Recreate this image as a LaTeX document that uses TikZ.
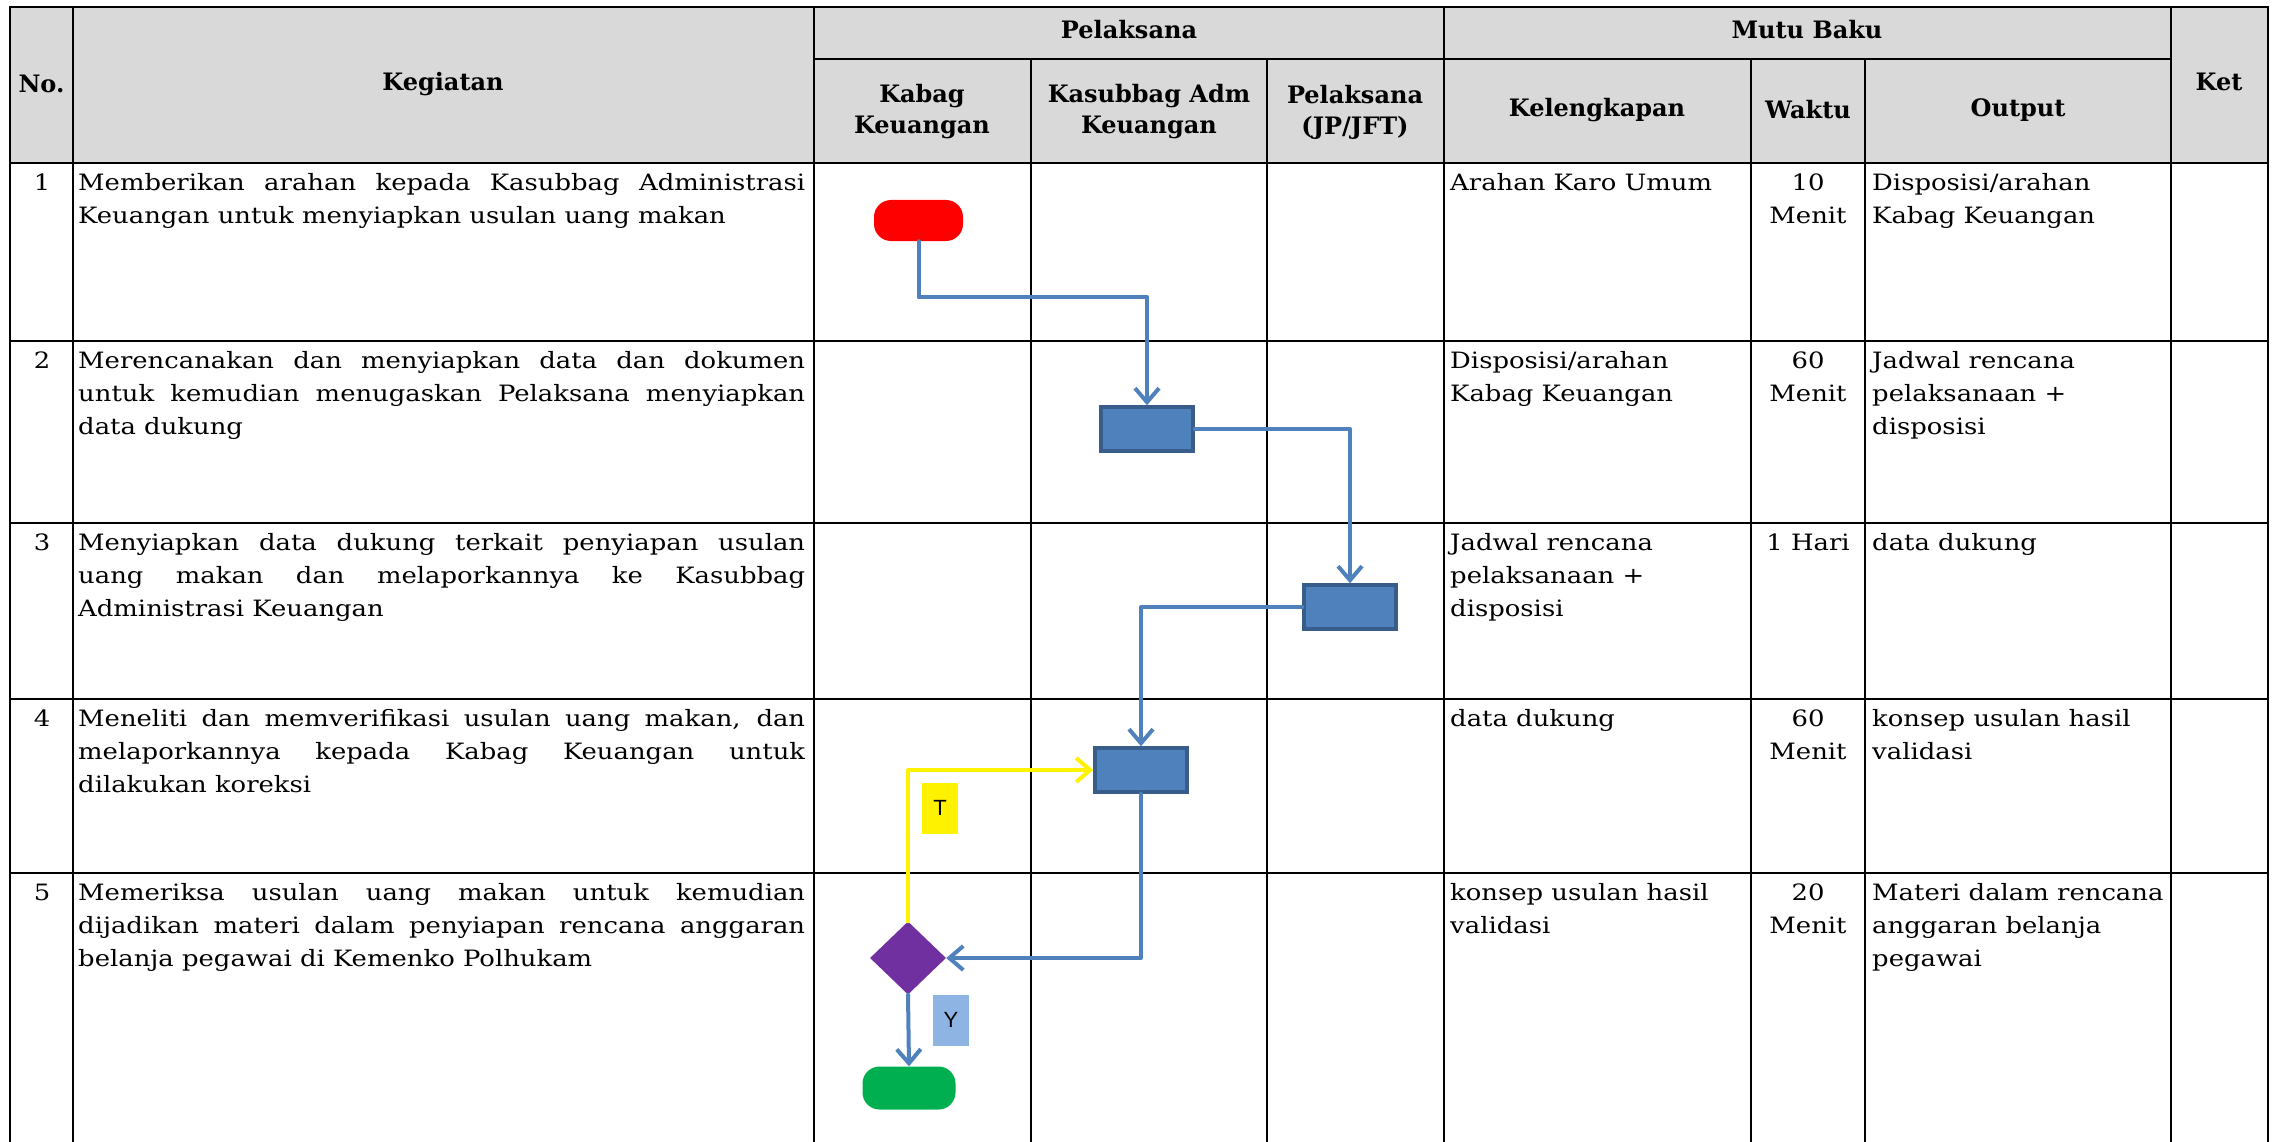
\documentclass[tikz,border=0pt]{standalone}
\usepackage{fontspec}
\setmainfont{DejaVu Serif}[FakeStretch=1.15]
\newfontfamily\hdrfont{DejaVu Serif}
\newfontfamily\arialfont{Liberation Sans}
\usetikzlibrary{arrows.meta,shapes.geometric}
\definecolor{hdrgray}{HTML}{D9D9D9}
\definecolor{flowblue}{HTML}{4F81BD}
\definecolor{boxedge}{HTML}{385D8A}
\definecolor{decpurple}{HTML}{7030A0}
\definecolor{endgreen}{HTML}{00B050}
\definecolor{ybox}{HTML}{8EB4E3}
\newcommand{\jline}[1]{\makebox[\linewidth][s]{#1}}
\tikzset{
  tline/.style={line width=2.5pt, black},
  hdr/.style={font=\hdrfont\bfseries\fontsize{24}{31}\selectfont, align=center, inner sep=0},
  body/.style={font=\fontsize{22.5}{33}\selectfont, inner sep=0, anchor=base west},
  num/.style={font=\fontsize{22.5}{33}\selectfont, inner sep=0, anchor=base},
  term/.style={rectangle, rounded corners=17pt, minimum width=89pt, minimum height=41pt, inner sep=0},
  proc/.style={rectangle, fill=flowblue, draw=boxedge, line width=3.5pt, minimum width=92pt, minimum height=44pt, inner sep=0},
  flow/.style={draw=flowblue, line width=4pt, line cap=round, line join=round, -{Straight Barb[length=14pt,width=24pt]}},
  lbl/.style={font=\arialfont\fontsize{22}{26}\selectfont, minimum width=36pt, minimum height=51pt, inner sep=0},
}
\begin{document}
\begin{tikzpicture}[x=1pt,y=-1pt]
\useasboundingbox (0,0) rectangle (2274,1142);
\fill[white] (0,0) rectangle (2274,1142);
% header background
\fill[hdrgray] (10,7) rectangle (2268,163);
% grid lines
\draw[tline] (10,1142) -- (10,7) -- (2268,7) -- (2268,1142);
\draw[tline] (814,59) -- (2171,59);
\foreach \yy in {163,341,523,699,873} \draw[tline] (10,\yy) -- (2268,\yy);
\foreach \xx in {73,814,1444,2171} \draw[tline] (\xx,7) -- (\xx,1142);
\foreach \xx in {1031,1267,1751,1865} \draw[tline] (\xx,59) -- (\xx,1142);

% header texts
\node[hdr] (hno) at (41.5,84) {No.};
\node[hdr] (hkeg) at (443,84) {Kegiatan};
\node[hdr] (hpel) at (1129,30) {Pelaksana};
\node[hdr] (hmutu) at (1807,30) {Mutu Baku};
\node[hdr] (hket) at (2219,82) {Ket};
\node[hdr] (hkabag) at (922,112) {Kabag\\Keuangan};
\node[hdr] (hkasub) at (1149,112) {Kasubbag Adm\\Keuangan};
\node[hdr] (hpjp) at (1355,112) {Pelaksana\\(JP/JFT)};
\node[hdr] (hkel) at (1597,110) {Kelengkapan};
\node[hdr] (hwak) at (1808,110) {Waktu};
\node[hdr] (hout) at (2018,110) {Output};

% row 1
\node[num] (no1) at (42,190) {1};
\node[body] (keg1) at (78,190) {\parbox[t]{727pt}{\jline{Memberikan arahan kepada Kasubbag Administrasi}\\Keuangan untuk menyiapkan usulan uang makan}};
\node[body] (kel1) at (1450,190) {\parbox[t]{300pt}{\raggedright Arahan Karo Umum}};
\node[num] (wak1) at (1808,190) {\parbox[t]{110pt}{\centering 10\\Menit}};
\node[body] (out1) at (1872,190) {\parbox[t]{295pt}{\raggedright Disposisi/arahan\\Kabag Keuangan}};

% row 2
\node[num] (no2) at (42,368) {2};
\node[body] (keg2) at (78,368) {\parbox[t]{727pt}{\jline{Merencanakan dan menyiapkan data dan dokumen}\\\jline{untuk kemudian menugaskan Pelaksana menyiapkan}\\data dukung}};
\node[body] (kel2) at (1450,368) {\parbox[t]{300pt}{\raggedright Disposisi/arahan\\Kabag Keuangan}};
\node[num] (wak2) at (1808,368) {\parbox[t]{110pt}{\centering 60\\Menit}};
\node[body] (out2) at (1872,368) {\parbox[t]{295pt}{\raggedright Jadwal rencana\\pelaksanaan +\\disposisi}};

% row 3
\node[num] (no3) at (42,550) {3};
\node[body] (keg3) at (78,550) {\parbox[t]{727pt}{\jline{Menyiapkan data dukung terkait penyiapan usulan}\\\jline{uang makan dan melaporkannya ke Kasubbag}\\Administrasi Keuangan}};
\node[body] (kel3) at (1450,550) {\parbox[t]{300pt}{\raggedright Jadwal rencana\\pelaksanaan +\\disposisi}};
\node[num] (wak3) at (1808,550) {\parbox[t]{110pt}{\centering 1 Hari}};
\node[body] (out3) at (1872,550) {\parbox[t]{295pt}{\raggedright data dukung}};

% row 4
\node[num] (no4) at (42,726) {4};
\node[body] (keg4) at (78,726) {\parbox[t]{727pt}{\jline{Meneliti dan memverifikasi usulan uang makan, dan}\\\jline{melaporkannya kepada Kabag Keuangan untuk}\\dilakukan koreksi}};
\node[body] (kel4) at (1450,726) {\parbox[t]{300pt}{\raggedright data dukung}};
\node[num] (wak4) at (1808,726) {\parbox[t]{110pt}{\centering 60\\Menit}};
\node[body] (out4) at (1872,726) {\parbox[t]{295pt}{\raggedright konsep usulan hasil\\validasi}};

% row 5
\node[num] (no5) at (42,900) {5};
\node[body] (keg5) at (78,900) {\parbox[t]{727pt}{\jline{Memeriksa usulan uang makan untuk kemudian}\\\jline{dijadikan materi dalam penyiapan rencana anggaran}\\belanja pegawai di Kemenko Polhukam}};
\node[body] (kel5) at (1450,900) {\parbox[t]{300pt}{\raggedright konsep usulan hasil\\validasi}};
\node[num] (wak5) at (1808,900) {\parbox[t]{110pt}{\centering 20\\Menit}};
\node[body] (out5) at (1872,900) {\parbox[t]{295pt}{\raggedright Materi dalam rencana\\anggaran belanja\\pegawai}};

% flowchart shapes
\node[term, fill=red] (start) at (918.5,220.5) {};
\node[proc] (b1) at (1147,429) {};
\node[proc] (b2) at (1350,607) {};
\node[proc] (b3) at (1141,770) {};
\node[diamond, fill=decpurple, minimum width=76pt, minimum height=73pt, inner sep=0] (dec) at (908,958) {};
\node[term, fill=endgreen, minimum width=93pt, minimum height=43pt] (fin) at (909,1088) {};
\node[lbl, fill=yellow] (tl) at (940,808) {T};
\node[lbl, fill=ybox] (yl) at (951,1020) {Y};

% connectors
\draw[flow] (start.south) -- ++(0,56) -| (b1.north);
\draw[flow] (b1.east) -| (b2.north);
\draw[flow] (b2.west) -| (b3.north);
\draw[flow] (b3.south) |- (dec.east);
\draw[flow, draw=yellow] (dec.north) |- (b3.west);
\draw[flow] (dec.south) -- (fin.north);
\end{tikzpicture}
\end{document}
